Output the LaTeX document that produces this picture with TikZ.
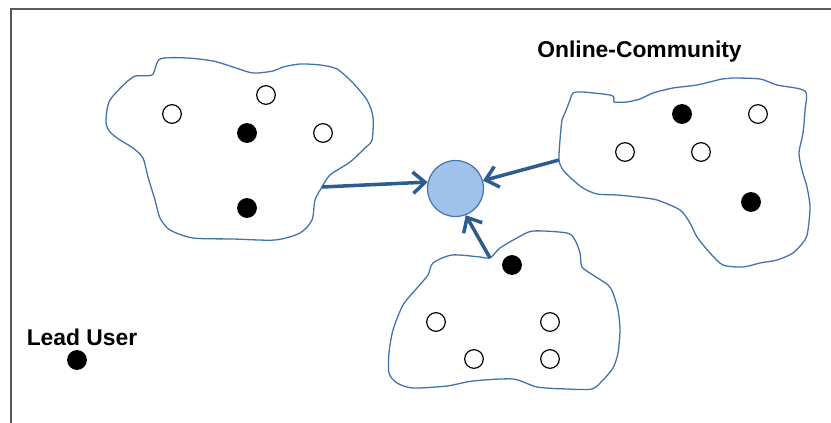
\documentclass[tikz,border=0pt]{standalone}
\usepackage{fontspec}
\newfontfamily\labfont{Liberation Sans}
\usetikzlibrary{arrows.meta}
\definecolor{cloudblue}{RGB}{66,114,172}
\definecolor{arrowblue}{RGB}{45,92,142}
\definecolor{hubfill}{RGB}{158,194,233}
\definecolor{framegray}{RGB}{90,90,90}

\begin{document}
\begin{tikzpicture}[x=0.03cm, y=-0.03cm,
  o/.style={circle, draw, line width=1pt, minimum size=0.56cm, inner sep=0pt},
  f/.style={o, fill=black},
  cl/.style={draw=cloudblue, line width=1.1pt},
  hub/.style={circle, draw=cloudblue, fill=hubfill, line width=1pt, minimum size=1.68cm, inner sep=0pt},
  a/.style={draw=arrowblue, line width=3pt, -{Straight Barb[length=3.6mm, width=6.4mm]}},
  lbl/.style={font=\labfont\bfseries\fontsize{19.5}{23}\selectfont, inner sep=0pt}]
\useasboundingbox (0,0) rectangle (831,423);
\draw[framegray, line width=1.6pt] (11,423) -- (11,9) -- (831,9);
% communities
\draw[cl] plot[smooth cycle, tension=0.45] coordinates {(160,59) (152,75) (133,77) (110,100) (106,122) (110,132) (120,140) (133,148) (143,158) (148,177) (155,200) (160,218) (170,230) (193,238) (233,239) (275,240) (300,233) (312,220) (315,200) (322,187) (330,175) (350,162) (365,148) (372,140) (373,117) (367,100) (353,83) (337,69) (320,65) (300,64) (283,67) (273,71) (253,73) (233,67) (213,61) (187,58)};
\draw[cl] plot[smooth cycle, tension=0.45] coordinates {(573,93) (583,92) (610,95) (614,98) (614,102) (627,102) (640,99) (653,93) (673,88) (697,85) (722,79) (732,78) (760,79) (777,85) (805,91) (805,110) (803,133) (799,153) (802,170) (807,187) (810,207) (808,230) (805,240) (793,253) (777,260) (760,263) (743,267) (723,265) (710,253) (697,237) (690,223) (680,210) (657,200) (637,197) (617,195) (597,194) (583,188) (573,180) (563,170) (559,160) (560,140) (562,120) (565,113) (570,100)};
\draw[cl] plot[smooth cycle, tension=0.45] coordinates {(490,258) (500,248) (517,238) (533,231) (567,233) (575,240) (580,253) (582,267) (593,275) (608,285) (613,293) (618,310) (620,330) (618,353) (613,368) (603,380) (592,389) (567,389) (537,387) (513,379) (473,381) (447,386) (413,388) (397,383) (389,373) (389,353) (393,330) (403,305) (417,288) (428,275) (433,263) (452,255) (480,257)};
\coordinate (c1out) at (322,187);
\coordinate (c2out) at (559,160);
\coordinate (c3out) at (490,258);
% members
\foreach \n/\x/\y/\s in {a1/172/114/o, a2/266/95/o, a3/247/133/f, a4/323/133/o, a5/247/208/f,
  b1/682/114/f, b2/758/114/o, b3/625/152/o, b4/701/152/o, b5/751/202/f,
  c1/512/265/f, c2/436/322/o, c3/550/322/o, c4/474/359/o, c5/550/359/o, lu/77/360/f}
  {\node[\s] (\n) at (\x,\y) {};}
\node[hub] (hub) at (455.5,188.5) {};
\node[lbl, anchor=base] (oc) at (639.5,57.5) {Online-Community};
\node[lbl, anchor=base] (lul) at (82,345) {Lead User};
\foreach \s/\t in {c1out/hub.167, c2out/hub.16, c3out/hub.-69} {\draw[a] (\s) -- (\t);}
\end{tikzpicture}
\end{document}
